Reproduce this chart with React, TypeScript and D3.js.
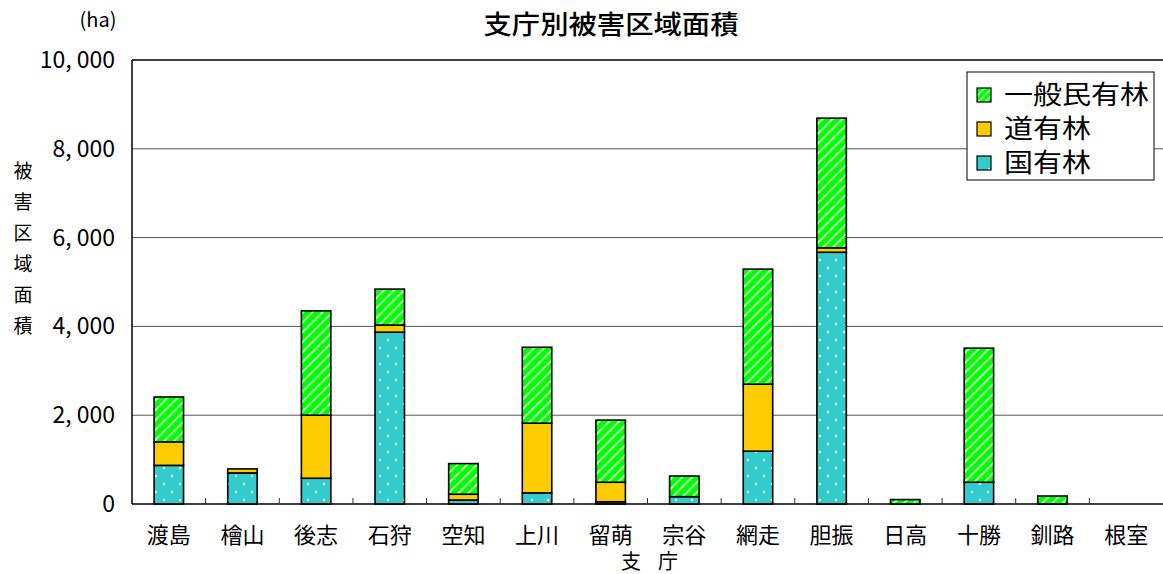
import React from "react";
import * as d3 from "d3";

const categories = ["渡島", "檜山", "後志", "石狩", "空知", "上川", "留萌", "宗谷", "網走", "胆振", "日高", "十勝", "釧路", "根室"];
const kokuyurin = [870, 700, 580, 3870, 90, 250, 50, 165, 1190, 5670, 0, 490, 0, 0];
const doyurin = [530, 90, 1420, 160, 130, 1570, 440, 0, 1510, 100, 0, 0, 0, 0];
const ippan = [1010, 0, 2350, 810, 690, 1710, 1400, 465, 2590, 2920, 100, 3020, 180, 0];
const yTicks = [0, 2000, 4000, 6000, 8000, 10000];
const seriesNames = ["国有林", "道有林", "一般民有林"];

const W = 1163, H = 574;
const M = { left: 132, right: 1163, top: 60, bottom: 504 };
const FONT = "'Noto Sans CJK JP', 'Noto Sans', sans-serif";

export default function App() {
  const x = d3.scaleBand<string>().domain(categories).range([M.left, M.right]).paddingInner(0.6).paddingOuter(0.3);
  const xb = d3.scaleBand<string>().domain(categories).range([M.left, M.right]);
  const y = d3.scaleLinear().domain([0, 10000]).range([M.bottom, M.top]);
  const fmt = (v: number) => d3.format(",")(v).replace(",", ", ");

  const rows = categories.map((c, i) => ({ c, 国有林: kokuyurin[i], 道有林: doyurin[i], 一般民有林: ippan[i] }));
  const stack = d3.stack<any>().keys(seriesNames)(rows);
  const fills = ["url(#dots)", "#ffcc00", "url(#stripes)"];

  const legendItems = [
    { name: "一般民有林", fill: "url(#stripesL)" },
    { name: "道有林", fill: "#ffcc00" },
    { name: "国有林", fill: "url(#dotsL)" },
  ];

  return (
    <svg width={W} height={H} style={{ position: "absolute", left: 0, top: 0, fontFamily: FONT }}>
      <defs>
        <pattern id="stripes" patternUnits="userSpaceOnUse" width="7" height="7" patternTransform="rotate(45)">
          <rect width="7" height="7" fill="#00ff00" />
          <rect x="0" width="1.6" height="7" fill="#ffffff" opacity="0.85" />
        </pattern>
        <pattern id="stripesL" patternUnits="userSpaceOnUse" width="5" height="5" patternTransform="rotate(45)">
          <rect width="5" height="5" fill="#00ff00" />
          <rect x="0" width="1.2" height="5" fill="#ffffff" opacity="0.85" />
        </pattern>
        <pattern id="dots" patternUnits="userSpaceOnUse" width="16" height="16">
          <rect width="16" height="16" fill="#33cccc" />
          <circle cx="4" cy="4" r="1.2" fill="#ffffff" />
          <circle cx="12" cy="12" r="1.2" fill="#ffffff" />
        </pattern>
        <pattern id="dotsL" patternUnits="userSpaceOnUse" width="16" height="16">
          <rect width="16" height="16" fill="#33cccc" />
          <circle cx="12" cy="6" r="1" fill="#ffffff" />
        </pattern>
      </defs>
      <rect width={W} height={H} fill="#fff" />
      {yTicks.filter(t => t > 0).map(t => (
        <line key={t} x1={M.left} x2={M.right} y1={y(t)} y2={y(t)} stroke={t === 10000 ? "#000" : "#555"} strokeWidth={t === 10000 ? 1.5 : 1} />
      ))}
      {stack.map((s, si) => (
        <g key={si}>
          {s.map((d, i) => {
            const h = y(d[0]) - y(d[1]);
            if (h <= 0) return null;
            return (
              <rect key={i} x={x(categories[i])!} y={y(d[1])} width={x.bandwidth()} height={h}
                fill={fills[si]} stroke="#000" strokeWidth={1.6} />
            );
          })}
        </g>
      ))}
      <line x1={M.left} x2={M.left} y1={M.top} y2={M.bottom} stroke="#000" strokeWidth={1.5} />
      <line x1={M.left} x2={M.right} y1={M.bottom} y2={M.bottom} stroke="#000" strokeWidth={1.5} />
      {categories.slice(1).map(c => (
        <line key={c} x1={xb(c)!} x2={xb(c)!} y1={M.bottom} y2={M.bottom - 6} stroke="#333" strokeWidth={1} />
      ))}
      {yTicks.map(t => (
        <text key={t} x={115} y={y(t)} dy="0.35em" textAnchor="end" fontSize={23} fill="#000">{fmt(t)}</text>
      ))}
      {categories.map(c => (
        <text key={c} x={xb(c)! + xb.bandwidth() / 2} y={535} dy="0.35em" textAnchor="middle" fontSize={22} fill="#000">{c}</text>
      ))}
      <text x={631} y={562} dy="0.35em" textAnchor="middle" fontSize={20} fill="#000">支</text>
      <text x={668} y={562} dy="0.35em" textAnchor="middle" fontSize={20} fill="#000">庁</text>
      <text x={611} y={25} dy="0.35em" textAnchor="middle" fontSize={26} fontWeight="500" fill="#000" textLength={255} lengthAdjust="spacingAndGlyphs">支庁別被害区域面積</text>
      <text x={98} y={20} dy="0.35em" textAnchor="middle" fontSize={20} fill="#000">(ha)</text>
      {"被害区域面積".split("").map((ch, i) => (
        <text key={i} x={23} y={171 + i * 31} dy="0.35em" textAnchor="middle" fontSize={19} fill="#000">{ch}</text>
      ))}
      <rect x={967} y={72} width={187} height={108} fill="#fff" stroke="#000" strokeWidth={1} />
      {legendItems.map((it, i) => (
        <g key={it.name} transform={`translate(977, ${95 + i * 34})`}>
          <rect x={0} y={-7} width={14} height={14} fill={it.fill} stroke="#000" strokeWidth={1.2} />
          <text x={27} y={0} dy="0.35em" fontSize={26} fill="#000" textLength={it.name.length * 29} lengthAdjust="spacingAndGlyphs">{it.name}</text>
        </g>
      ))}
    </svg>
  );
}
